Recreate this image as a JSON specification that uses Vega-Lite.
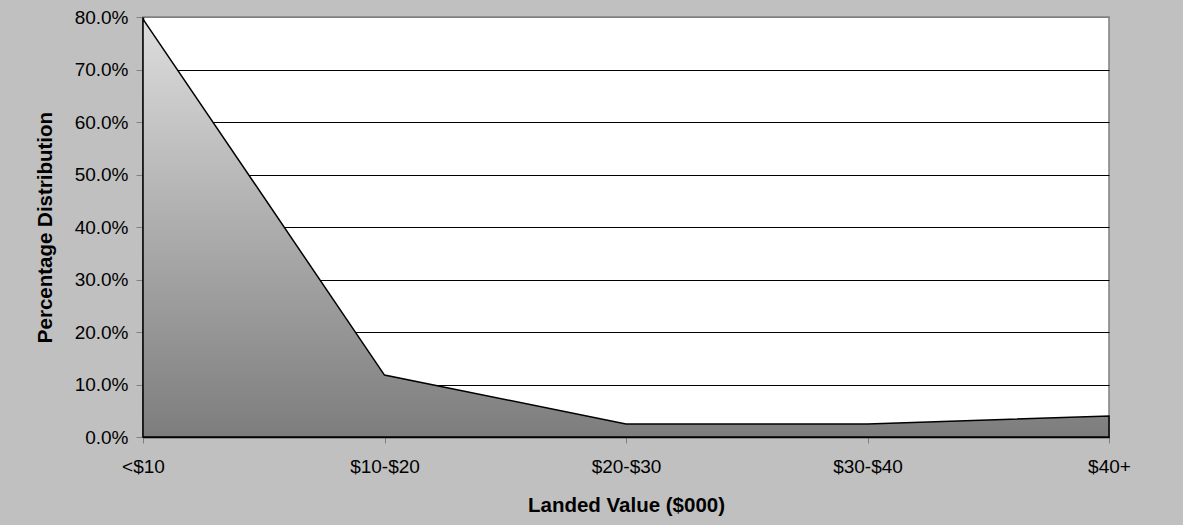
{
  "$schema": "https://vega.github.io/schema/vega-lite/v6.json",
  "width": 966,
  "height": 420,
  "autosize": {"type": "none"},
  "padding": {"left": 143, "top": 17, "right": 74, "bottom": 88},
  "background": "#c0c0c0",
  "config": {
    "font": "Liberation Sans",
    "view": {"stroke": "#808080", "strokeWidth": 1.5, "fill": "white"}
  },
  "data": {
    "values": [
      {"range": "<$10", "pct": 0.796},
      {"range": "$10-$20", "pct": 0.118},
      {"range": "$20-$30", "pct": 0.025},
      {"range": "$30-$40", "pct": 0.025},
      {"range": "$40+", "pct": 0.040}
    ]
  },
  "mark": {
    "type": "area",
    "stroke": "black",
    "strokeWidth": 1.5,
    "strokeJoin": "miter",
    "color": {
      "gradient": "linear",
      "x1": 0, "y1": 0, "x2": 0, "y2": 1,
      "stops": [
        {"offset": 0, "color": "#dddddd"},
        {"offset": 1, "color": "#7d7d7d"}
      ]
    },
    "fillOpacity": 1
  },
  "encoding": {
    "x": {
      "field": "range",
      "type": "ordinal",
      "sort": null,
      "scale": {"type": "point", "padding": 0},
      "axis": {
        "title": "Landed Value ($000)",
        "titleFontSize": 20.5,
        "titleFontWeight": "bold",
        "titleColor": "black",
        "titlePadding": 19,
        "labelAngle": 0,
        "labelFontSize": 19,
        "labelColor": "black",
        "labelPadding": 14,
        "tickSize": 6,
        "tickColor": "#808080",
        "domainColor": "black",
        "domainWidth": 1.5,
        "grid": false
      }
    },
    "y": {
      "field": "pct",
      "type": "quantitative",
      "scale": {"domain": [0, 0.8], "nice": false},
      "axis": {
        "title": "Percentage Distribution",
        "titleFontSize": 20.5,
        "titleFontWeight": "bold",
        "titleColor": "black",
        "titlePadding": 19,
        "values": [0, 0.1, 0.2, 0.3, 0.4, 0.5, 0.6, 0.7, 0.8],
        "format": ".1%",
        "labelFontSize": 19,
        "labelColor": "black",
        "labelPadding": 8,
        "tickSize": 7,
        "tickColor": "#808080",
        "domainColor": "black",
        "domainWidth": 1.5,
        "grid": true,
        "gridColor": {"condition": {"test": "datum.value >= 0.8", "value": "#808080"}, "value": "black"},
        "gridOpacity": 1,
        "gridWidth": 1
      }
    }
  }
}
